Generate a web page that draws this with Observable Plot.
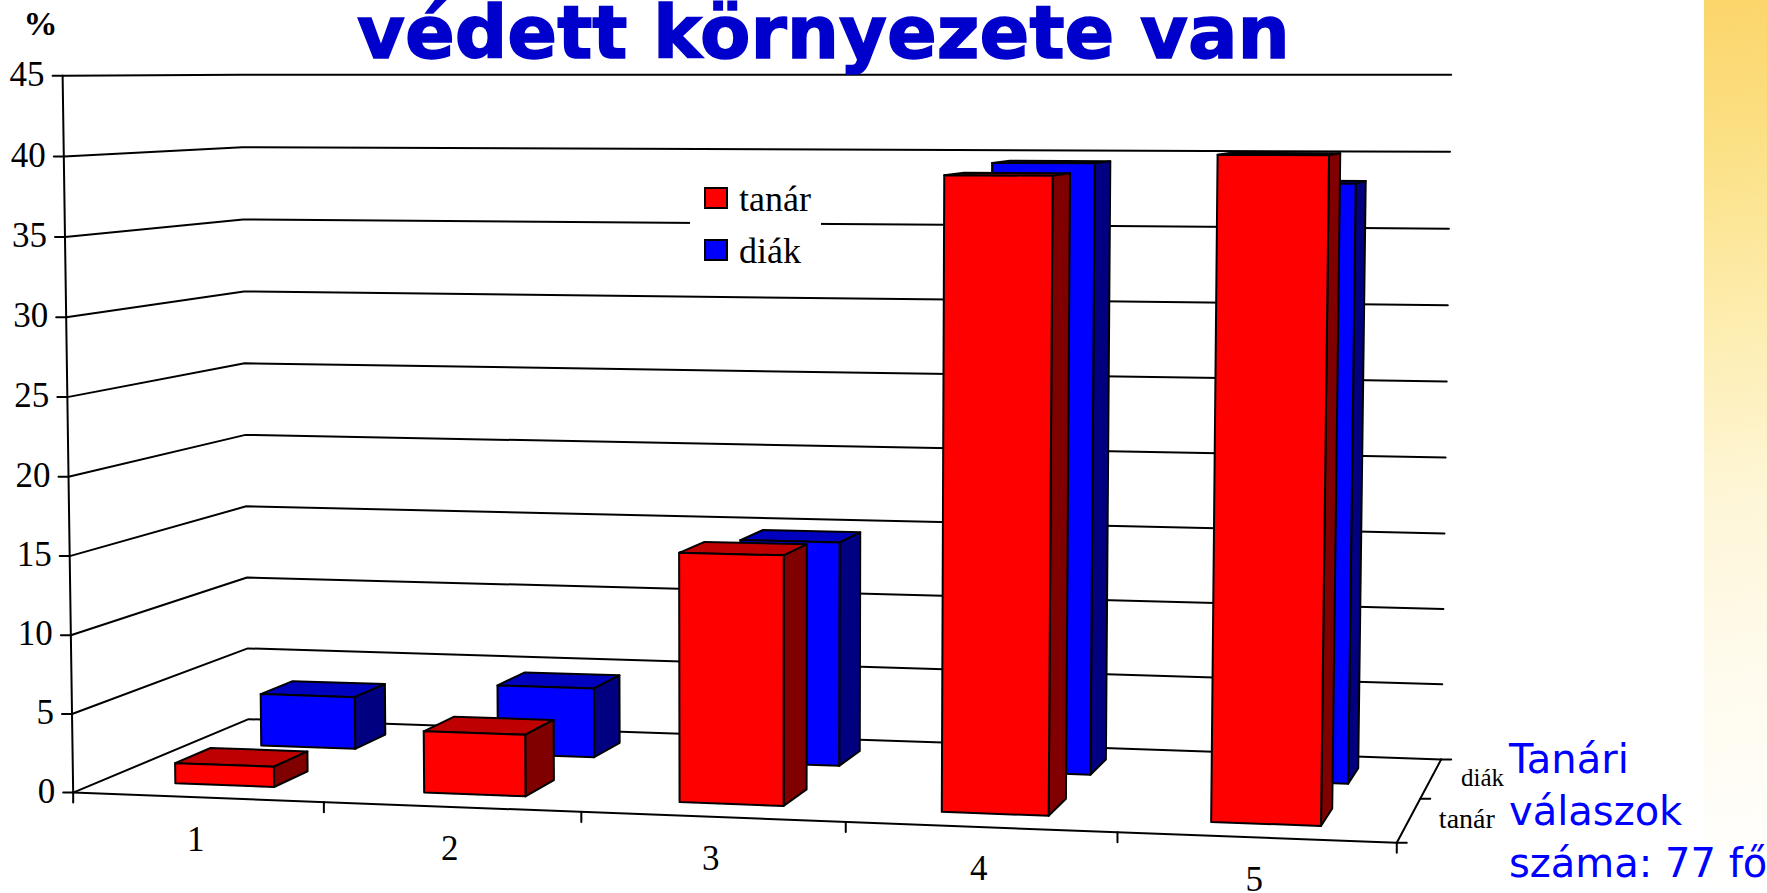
<!DOCTYPE html>
<html lang="hu">
<head>
<meta charset="utf-8">
<script src="https://cdn.jsdelivr.net/npm/d3@7"></script>
<script src="https://cdn.jsdelivr.net/npm/@observablehq/plot@0.6"></script>
<style>
html,body{margin:0;padding:0;width:1767px;height:893px;overflow:hidden;background:#fff}
#band{position:absolute;left:1704px;top:0;width:63px;height:893px;
 background:linear-gradient(172deg,#fcd56a 0%,#fbe084 16%,#fdedaf 36%,#fef6d8 56%,#fffbee 76%,#fff 100%)}
#chart{position:absolute;left:0;top:0}
#title{position:absolute;left:357px;top:0;font:bold 73.5px/66px "DejaVu Sans",sans-serif;color:#0000cc;white-space:nowrap;-webkit-text-stroke:1.5px #0000cc}
#note{position:absolute;left:1509px;top:733px;font:40px/52px "DejaVu Sans",sans-serif;color:#0000ff;white-space:nowrap}
#legend{position:absolute;left:690px;top:167px;width:131px;height:104px;background:#fff;font:36px/36px "Liberation Serif",serif;color:#000}
#legend div{position:absolute;left:14px;white-space:nowrap}
#legend i{position:absolute;left:0;top:6px;width:20px;height:18px;border:2px solid #000}
#legend span{position:absolute;left:35px;top:0}
</style>
</head>
<body>
<div id="band"></div>
<div id="chart"></div>
<div id="legend"></div>
<div id="title">védett környezete van</div>
<div id="note">Tanári<br>válaszok<br>száma: 77 fő</div>
<script>
const categories = ["1", "2", "3", "4", "5"];
const seriesNames = ["tanár", "diák"];
const tanar = [1.3, 3.9, 15.6, 39, 40.3];
const diak = [3.5, 4.6, 14.7, 39.4, 38.2];
const valueTicks = [0, 5, 10, 15, 20, 25, 30, 35, 40, 45];
const faceColors = {
  "tanár": {front: "#ff0000", side: "#800000", top: "#bf0000"},
  "diák": {front: "#0000ff", side: "#000080", top: "#0000bf"}
};

// Perspective camera of the 3-D chart: reference points of the box (column, depth, value -> picture).
const boxPoints = [
  [0,0,45,62.5,75],[0,0,45,62.5,75],[0,0,40,64,155.7],[0,0,30,66,316],[0,0,20,68,475.7],[0,0,10,70,635],[0,0,0,72.3,793.3],
  [0,2,45,240,75],[0,2,45,240,75],[0,2,40,242,146.7],[0,2,30,244,291],[0,2,20,244,434],[0,2,10,247,576.5],[0,2,0,249,718.7],
  [5,2,45,1451,75],[5,2,40,1450,151],[5,2,30,1447,304],[5,2,20,1445,457.6],[5,2,10,1443,608.6],[5,2,0,1441,758],
  [1,0,0,323.5,801.7],[2,0,0,580,811],[3,0,0,846,821],[4,0,0,1117,833],[5,0,0,1395,843],[5,1,0,1420,797.7]
];
function fitCamera(pts) {
  const A = Array.from({length: 11}, () => new Array(12).fill(0));
  const add = (row, b) => { for (let i = 0; i < 11; i++) { for (let j = 0; j < 11; j++) A[i][j] += row[i] * row[j]; A[i][11] += row[i] * b; } };
  for (const [u, d, v0, x0, y0] of pts) {
    const v = v0 / 10, x = x0 / 1000, y = y0 / 1000;
    add([u, d, v, 1, 0, 0, 0, 0, -x*u, -x*d, -x*v], x);
    add([0, 0, 0, 0, u, d, v, 1, -y*u, -y*d, -y*v], y);
  }
  for (let c = 0; c < 11; c++) {
    let p = c; for (let r = c + 1; r < 11; r++) if (Math.abs(A[r][c]) > Math.abs(A[p][c])) p = r;
    [A[c], A[p]] = [A[p], A[c]];
    for (let r = 0; r < 11; r++) if (r !== c) { const f = A[r][c] / A[c][c]; for (let k = c; k < 12; k++) A[r][k] -= f * A[c][k]; }
  }
  return A.map((row, i) => row[11] / row[i]);
}
const cam = fitCamera(boxPoints);
function project(u, d, val) {
  const v = val / 10, w = cam[8]*u + cam[9]*d + cam[10]*v + 1;
  return [1000*(cam[0]*u + cam[1]*d + cam[2]*v + cam[3]) / w, 1000*(cam[4]*u + cam[5]*d + cam[6]*v + cam[7]) / w];
}

// Rule lines
const rules = [];
const rule = (id, pts) => pts.forEach(([x, y]) => rules.push({id, x, y}));
const off = ([x, y], dx, dy) => [x + dx, y + dy];
valueTicks.forEach(v => {
  const a = project(0, 0, v);
  rule("grid" + v, [a, project(0, 2, v), project(5, 2, v)]);
  rule("ytick" + v, [a, off(a, -10, 0)]);
});
rule("yaxis", [project(0, 0, 0), project(0, 0, 45)]);
rule("front", [project(0, 0, 0), project(5, 0, 0)]);
rule("side", [project(5, 0, 0), project(5, 2, 0)]);
for (let i = 0; i <= categories.length; i++) { const a = project(i, 0, 0); rule("xtick" + i, [a, off(a, 0, 10)]); }
[0, 1, 2].forEach(d => { const a = project(5, d, 0); rule("dtick" + d, [a, off(a, 10, 0)]); });

// Bar faces, back series first, left to right
const faces = [];
const face = (id, fill, pts) => [...pts, pts[0]].forEach(([x, y]) => faces.push({id, fill, x, y}));
[["diák", diak, 1], ["tanár", tanar, 0]].forEach(([name, values, row]) => {
  values.forEach((val, i) => {
    const u0 = i + 0.3, u1 = i + 0.7, d0 = row + 0.3, d1 = row + 0.7, c = faceColors[name];
    face(`${name}${i}top`, c.top, [project(u0,d0,val), project(u1,d0,val), project(u1,d1,val), project(u0,d1,val)]);
    face(`${name}${i}side`, c.side, [project(u1,d0,0), project(u1,d1,0), project(u1,d1,val), project(u1,d0,val)]);
    face(`${name}${i}front`, c.front, [project(u0,d0,0), project(u1,d0,0), project(u1,d0,val), project(u0,d0,val)]);
  });
});

// Text labels
const yLabels = valueTicks.map(v => { const [x, y] = project(0, 0, v); return {t: String(v), x, y}; });
const xLabels = categories.map((t, i) => { const [x, y] = project(i + 0.5, 0, 0); return {t, x, y}; });
const dLabels = seriesNames.map((t, i) => { const [x, y] = project(5, i + 0.5, 0); return {t, x, y}; });

const serif = "Liberation Serif";
const svg = Plot.plot({
  width: 1767, height: 893, margin: 0,
  style: {background: "transparent", overflow: "visible"},
  x: {domain: [0, 1767], range: [0, 1767], axis: null},
  y: {domain: [0, 893], range: [0, 893], axis: null},
  color: {type: "identity"},
  marks: [
    Plot.line(rules, {x: "x", y: "y", z: "id", stroke: "#000", strokeWidth: 2}),
    Plot.line(faces, {x: "x", y: "y", z: "id", fill: "fill", stroke: "#000", strokeWidth: 2}),
    Plot.text(yLabels, {x: "x", y: "y", text: "t", textAnchor: "end", dx: -18, dy: -1, fontFamily: serif, fontSize: 35, fill: "#000"}),
    Plot.text(xLabels, {x: "x", y: "y", text: "t", dx: -2, dy: 42, fontFamily: serif, fontSize: 35, fill: "#000"}),
    Plot.text(dLabels, {x: "x", y: "y", text: "t", textAnchor: "start", dx: 30, dy: -1, fontFamily: serif, fontSize: d => d.t === "tanár" ? 28 : 25, fill: "#000"}),
    Plot.text(["%"], {x: () => 40, y: () => 24, text: d => d, fontFamily: serif, fontWeight: "bold", fontSize: 34, fill: "#000"})
  ]
});
document.getElementById("chart").appendChild(svg);

const legend = document.getElementById("legend");
seriesNames.forEach((name, i) => {
  const row = document.createElement("div");
  row.style.top = (14 + i * 52) + "px";
  row.innerHTML = `<i style="background:${faceColors[name].front}"></i><span>${name}</span>`;
  legend.appendChild(row);
});
</script>
</body>
</html>
